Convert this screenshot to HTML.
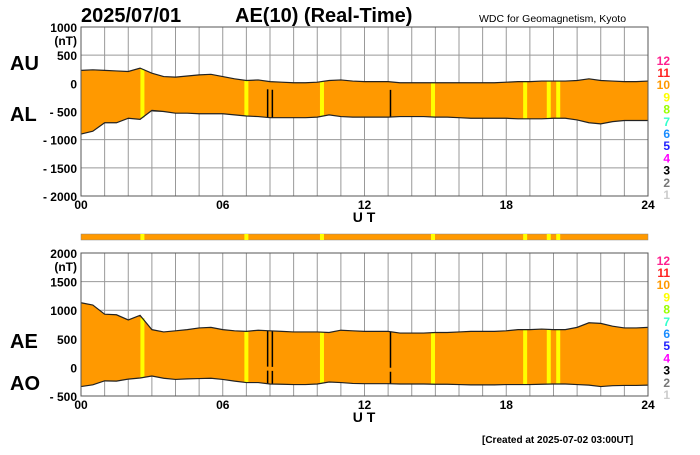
<!DOCTYPE html>
<html><head><meta charset="utf-8"><style>
body{margin:0;background:#fff;width:700px;height:450px;overflow:hidden}
svg{font-family:"Liberation Sans",Arial,sans-serif;font-weight:bold}
</style></head><body>
<svg id="c" width="700" height="450">
<text x="81" y="22" font-size="20">2025/07/01</text>
<text x="235" y="22" font-size="20">AE(10) (Real-Time)</text>
<text x="479" y="22" font-size="10.5" font-weight="normal">WDC for Geomagnetism, Kyoto</text>
<text x="482" y="443" font-size="10">[Created at 2025-07-02 03:00UT]</text>
<g id="g"></g>
</svg>
<script>
const hours=[0,0.5,1,1.5,2,2.5,3,3.5,4,4.5,5,5.5,6,6.5,7,7.5,8,8.5,9,9.5,10,10.5,11,11.5,12,12.5,13,13.5,14,14.5,15,15.5,16,16.5,17,17.5,18,18.5,19,19.5,20,20.5,21,21.5,22,22.5,23,23.5,24];
const auValues=[230,240,230,220,210,270,180,120,110,130,150,160,120,80,50,60,30,20,10,10,20,50,60,40,30,30,30,10,10,10,10,10,10,10,10,10,20,30,30,40,40,40,50,80,50,40,30,30,40];
const alValues=[-900,-850,-700,-700,-620,-640,-480,-500,-530,-530,-540,-540,-540,-560,-580,-590,-610,-610,-610,-610,-600,-560,-590,-600,-600,-600,-600,-590,-590,-590,-600,-600,-610,-620,-620,-620,-620,-630,-630,-630,-620,-620,-650,-700,-720,-680,-660,-660,-660];
const yellowHours=[2.6,7.0,10.2,14.9,18.8,19.8,20.2];
const blackHours=[7.9,8.1,13.1];
const topTicks=[1000,500,0,-500,-1000,-1500,-2000];
const botTicks=[2000,1500,1000,500,0,-500];
const xTickLabels=["00","06","12","18","24"];
const legendNums=["12","11","10","9","8","7","6","5","4","3","2","1"];
const legendColors=["#ff1f8f","#ff2020","#ff9900","#ffff00","#99ff00","#33ffcc","#1a8cff","#2020ff","#ff00ff","#000","#777","#ccc"];

const NS="http://www.w3.org/2000/svg",G=document.getElementById('g');
function el(t,a,txt){const e=document.createElementNS(NS,t);for(const k in a)e.setAttribute(k,a[k]);if(txt!=null)e.textContent=txt;G.appendChild(e);return e;}
const X0=81,X1=648;
const xs=h=>X0+(X1-X0)*h/24;
function panel(id,top,bot,vmax,vmin,ticks,upper,lower,lab1,lab2,lab1y,lab2y){
  const ys=v=>top+(bot-top)*(vmax-v)/(vmax-vmin);
  for(let h=0;h<=24;h++){const l=el('line',{x1:xs(h),x2:xs(h),y1:top,y2:bot,stroke:'#999','stroke-width':1});
    }
  ticks.forEach(t=>{const l=el('line',{x1:X0,x2:X1,y1:ys(t),y2:ys(t),stroke:'#999','stroke-width':1});
    
    const s=(t<0?'- '+(-t):''+t);
    const tx=el('text',{x:X0-4,y:ys(t)+5,'font-size':12,'text-anchor':'end'},s);
    });
  const u=el('text',{x:X0-4,y:ys(ticks[0])+18,'font-size':12,'text-anchor':'end'},'(nT)');
  
  let d='M'+hours.map((h,i)=>xs(h)+','+ys(upper[i])).join('L');
  for(let i=hours.length-1;i>=0;i--)d+='L'+xs(hours[i])+','+ys(lower[i]);
  const a=el('path',{d:d+'Z',fill:'#ff9900',stroke:'none'});
  
  const interp=(arr,h)=>{const i=Math.min(Math.floor(h*2),47),f=h*2-i;return arr[i]+(arr[i+1]-arr[i])*f;};
  yellowHours.forEach(h=>{const r=el('rect',{x:xs(h)-2,y:ys(interp(upper,h)),width:4,height:ys(interp(lower,h))-ys(interp(upper,h)),fill:'#ffff00'});
    });
  blackHours.forEach(h=>{const r=el('line',{x1:xs(h),x2:xs(h),y1:ys(interp(upper,h))+(id==='top'?8:0),y2:ys(interp(lower,h)),stroke:'#000','stroke-width':1.5});
    if(id==='bottom')r.setAttribute('stroke-dasharray','36,4,100');
    });
  [upper,lower].forEach((arr,k)=>{const p=el('polyline',{points:hours.map((h,i)=>xs(h)+','+ys(arr[i])).join(' '),fill:'none',stroke:'#222','stroke-width':1.2});
    });
  const fr=el('rect',{x:X0,y:top,width:X1-X0,height:bot-top,fill:'none',stroke:'#555','stroke-width':1});
  
  xTickLabels.forEach((s,i)=>{const t=el('text',{x:xs(i*6),y:bot+13,'font-size':12,'text-anchor':'middle'},s);
    });
  const ut=el('text',{x:364,y:bot+26,'font-size':14,'text-anchor':'middle'},'U T');
  
  const l1=el('text',{x:10,y:lab1y,'font-size':20},lab1);
  const l2=el('text',{x:10,y:lab2y,'font-size':20},lab2);
  legendNums.forEach((n,i)=>{const t=el('text',{x:670,y:bot+3-(11-i)*12.2,'font-size':12,'text-anchor':'end',fill:legendColors[i]},n);
    });
}
panel('top',27,196,1000,-2000,topTicks,auValues,alValues,'AU','AL',70,121);
const aeValues=auValues.map((u,i)=>u-alValues[i]);
const aoValues=auValues.map((u,i)=>(u+alValues[i])/2);
const s=el('rect',{x:X0,y:234,width:X1-X0,height:6,fill:'#ff9900',stroke:'#888','stroke-width':0.5});

yellowHours.forEach(h=>{const r=el('rect',{x:xs(h)-2,y:234,width:4,height:6,fill:'#ffff00'});
  });
panel('bottom',253,396,2000,-500,botTicks,aeValues,aoValues,'AE','AO',348,390);
</script>
</body></html>
